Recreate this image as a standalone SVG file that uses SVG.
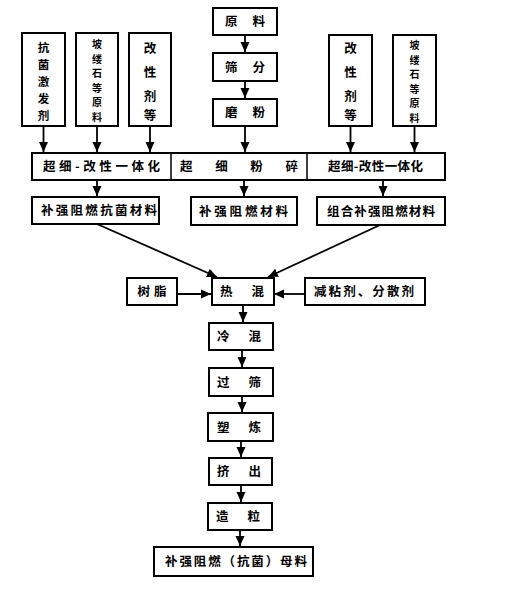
<svg xmlns="http://www.w3.org/2000/svg" width="520" height="598" viewBox="0 0 520 598">
<style>
.b{fill:#fff;stroke:#000;stroke-width:2}
.t{font-family:"Noto Sans CJK SC","Noto Sans",sans-serif;font-weight:bold;font-size:12.5px;fill:#000;text-anchor:middle}
.s{font-size:10px}
.m{font-size:11.5px}
.l{fill:none;stroke:#000;stroke-width:1.8}
</style>
<defs>
<marker id="a" markerUnits="userSpaceOnUse" markerWidth="10" markerHeight="10" viewBox="0 0 10 10" refX="10" refY="5" orient="auto">
<path d="M0,0.5 L10,5 L0,9.5 Z" fill="#000"/>
</marker>
</defs>
<rect width="520" height="598" fill="#fff"/>
<g id="connectors">
<line class="l" x1="43.5" y1="126" x2="43.5" y2="152" marker-end="url(#a)"/>
<line class="l" x1="97" y1="126" x2="97" y2="152" marker-end="url(#a)"/>
<line class="l" x1="150" y1="126" x2="150" y2="152" marker-end="url(#a)"/>
<line class="l" x1="245" y1="35" x2="245" y2="52" marker-end="url(#a)"/>
<line class="l" x1="245" y1="81" x2="245" y2="98" marker-end="url(#a)"/>
<line class="l" x1="245" y1="126" x2="245" y2="152" marker-end="url(#a)"/>
<line class="l" x1="350.5" y1="126" x2="350.5" y2="152" marker-end="url(#a)"/>
<line class="l" x1="414.5" y1="126" x2="414.5" y2="152" marker-end="url(#a)"/>
<line class="l" x1="97" y1="180" x2="97" y2="196" marker-end="url(#a)"/>
<line class="l" x1="244" y1="180" x2="244" y2="196" marker-end="url(#a)"/>
<line class="l" x1="383" y1="180" x2="383" y2="196" marker-end="url(#a)"/>
<line class="l" x1="97" y1="224" x2="217" y2="277" marker-end="url(#a)"/>
<line class="l" x1="380" y1="225" x2="268" y2="277" marker-end="url(#a)"/>
<line class="l" x1="177" y1="294" x2="211" y2="294" marker-end="url(#a)"/>
<line class="l" x1="305" y1="294" x2="274" y2="294" marker-end="url(#a)"/>
<line class="l" x1="243" y1="305" x2="243" y2="322" marker-end="url(#a)"/>
<line class="l" x1="242" y1="350" x2="242" y2="367" marker-end="url(#a)"/>
<line class="l" x1="242" y1="396" x2="242" y2="412" marker-end="url(#a)"/>
<line class="l" x1="241" y1="441" x2="241" y2="457" marker-end="url(#a)"/>
<line class="l" x1="241" y1="485" x2="241" y2="502" marker-end="url(#a)"/>
<line class="l" x1="240" y1="530" x2="240" y2="546" marker-end="url(#a)"/>
</g>
<g id="n-kjjfj">
<rect class="b" x="22" y="33" width="43" height="93"/>
<text class="t m"><tspan x="43.5" y="52.3">抗</tspan><tspan x="43.5" y="69.3">菌</tspan><tspan x="43.5" y="86.3">激</tspan><tspan x="43.5" y="103.3">发</tspan><tspan x="43.5" y="120.3">剂</tspan></text>
</g>
<g id="n-plsdyl1">
<rect class="b" x="76" y="33" width="42" height="93"/>
<text class="t s"><tspan x="97" y="48">坡</tspan><tspan x="97" y="62.5">缕</tspan><tspan x="97" y="77">石</tspan><tspan x="97" y="91.5">等</tspan><tspan x="97" y="106">原</tspan><tspan x="97" y="120.5">料</tspan></text>
</g>
<g id="n-gxjd1">
<rect class="b" x="129" y="33" width="42" height="93"/>
<text class="t"><tspan x="150" y="53">改</tspan><tspan x="150" y="77">性</tspan><tspan x="150" y="101">剂</tspan><tspan x="150" y="120">等</tspan></text>
</g>
<g id="n-yl">
<rect class="b" x="213" y="8" width="64" height="27"/>
<text class="t" x="245" y="26" textLength="40" lengthAdjust="spacing">原料</text>
</g>
<g id="n-sf">
<rect class="b" x="213" y="53" width="64" height="28"/>
<text class="t" x="245" y="71.5" textLength="40" lengthAdjust="spacing">筛分</text>
</g>
<g id="n-mf">
<rect class="b" x="213" y="99" width="64" height="27"/>
<text class="t" x="245" y="117" textLength="40" lengthAdjust="spacing">磨粉</text>
</g>
<g id="n-gxjd2">
<rect class="b" x="329" y="35" width="43" height="91"/>
<text class="t"><tspan x="350.5" y="53">改</tspan><tspan x="350.5" y="77">性</tspan><tspan x="350.5" y="101">剂</tspan><tspan x="350.5" y="120">等</tspan></text>
</g>
<g id="n-plsdyl2">
<rect class="b" x="393" y="35" width="43" height="91"/>
<text class="t s"><tspan x="414.5" y="49">坡</tspan><tspan x="414.5" y="63.5">缕</tspan><tspan x="414.5" y="78">石</tspan><tspan x="414.5" y="92.5">等</tspan><tspan x="414.5" y="107">原</tspan><tspan x="414.5" y="121.5">料</tspan></text>
</g>
<g id="n-row1">
<rect class="b" x="32" y="153" width="413" height="27"/>
<line x1="171" y1="153" x2="171" y2="180" stroke="#000" stroke-width="1.5"/>
<line x1="307" y1="153" x2="307" y2="180" stroke="#000" stroke-width="1.5"/>
<text class="t" x="101.5" y="171" textLength="117" lengthAdjust="spacing">超细-改性一体化</text>
<text class="t" x="239" y="171" textLength="118" lengthAdjust="spacing">超细粉碎</text>
<text class="t" x="375.5" y="171" textLength="95" lengthAdjust="spacing">超细-改性一体化</text>
</g>
<g id="n-bqzrkj">
<rect class="b" x="32" y="197" width="127" height="27"/>
<text class="t" x="99" y="215" textLength="116" lengthAdjust="spacing">补强阻燃抗菌材料</text>
</g>
<g id="n-bqzr">
<rect class="b" x="191" y="197" width="106" height="28"/>
<text class="t" x="243.5" y="215.5" textLength="89" lengthAdjust="spacing">补强阻燃材料</text>
</g>
<g id="n-zhbqzr">
<rect class="b" x="317" y="197" width="128" height="28"/>
<text class="t" x="381" y="215.5" textLength="108" lengthAdjust="spacing">组合补强阻燃材料</text>
</g>
<g id="n-sz">
<rect class="b" x="127" y="278" width="50" height="27"/>
<text class="t" x="152" y="296" textLength="29" lengthAdjust="spacing">树脂</text>
</g>
<g id="n-rh">
<rect class="b" x="212" y="278" width="62" height="27"/>
<text class="t" x="242" y="296" textLength="44" lengthAdjust="spacing">热混</text>
</g>
<g id="n-jnj">
<rect class="b" x="305" y="278" width="120" height="27"/>
<text class="t" x="364" y="296" textLength="100" lengthAdjust="spacing">减粘剂、分散剂</text>
</g>
<g id="n-lh">
<rect class="b" x="209" y="323" width="64" height="27"/>
<text class="t" x="239" y="341" textLength="44" lengthAdjust="spacing">冷混</text>
</g>
<g id="n-gs">
<rect class="b" x="209" y="368" width="64" height="28"/>
<text class="t" x="239" y="386.5" textLength="44" lengthAdjust="spacing">过筛</text>
</g>
<g id="n-sl">
<rect class="b" x="208" y="413" width="65" height="28"/>
<text class="t" x="239" y="431.5" textLength="44" lengthAdjust="spacing">塑炼</text>
</g>
<g id="n-jc">
<rect class="b" x="209" y="458" width="63" height="27"/>
<text class="t" x="239" y="476" textLength="44" lengthAdjust="spacing">挤出</text>
</g>
<g id="n-zl">
<rect class="b" x="208" y="503" width="64" height="27"/>
<text class="t" x="238" y="521" textLength="44" lengthAdjust="spacing">造粒</text>
</g>
<g id="n-ml">
<rect class="b" x="154" y="547" width="159" height="29"/>
<text class="t" x="236" y="566" textLength="142" lengthAdjust="spacing">补强阻燃（抗菌）母料</text>
</g>
</svg>
